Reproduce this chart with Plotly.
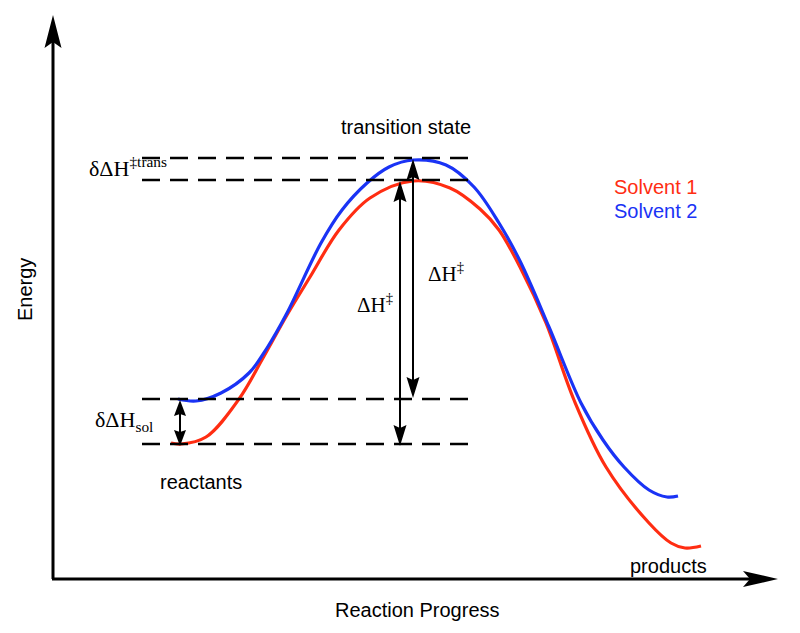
import plotly.graph_objects as go

# ---- data (x = reaction progress, y = energy; arbitrary units) ----
red_x = [171, 181, 206, 239, 263, 287, 310, 339, 370, 413, 450, 480, 499, 520, 546, 574,
         606, 649, 671, 685, 701]
red_E = [190, 189, 196, 234, 275, 318, 356, 403, 435, 452, 445, 424, 403, 366, 310, 233,
         166, 110, 90, 85, 87]

blue_x = [178, 196, 221, 249, 267, 287, 321, 342, 367, 389, 413, 446, 474, 499, 520, 549,
          581, 603, 624, 649, 667, 678]
blue_E = [234, 232, 240, 260, 285, 320, 390, 423, 450, 466, 473, 468, 446, 410, 372, 306,
          230, 193, 166, 143, 136, 137]

# reference energy levels (dashed)
level_E = [475, 453, 234, 189]
level_x = [142, 470]

# double arrows: (x, E_top, E_bottom)
arrows = [(400, 452, 187), (413, 474, 235), (180, 233, 187)]

RED = "#ff2d12"
BLUE = "#1a33f5"
SANS = "Liberation Sans, Arial, Helvetica, sans-serif"
SERIF = "Liberation Serif, Times New Roman, serif"

fig = go.Figure()
fig.add_trace(go.Scatter(x=red_x, y=red_E, mode="lines",
                         line=dict(color=RED, width=3.2, shape="spline", smoothing=1.0),
                         hoverinfo="skip"))
fig.add_trace(go.Scatter(x=blue_x, y=blue_E, mode="lines",
                         line=dict(color=BLUE, width=3.2, shape="spline", smoothing=1.0),
                         hoverinfo="skip"))

shapes = []


def head(tx, ty, dx, dy, L, W, N):
    nx, ny = -dy, dx
    bx, by = tx - L * dx, ty - L * dy
    p1 = (bx + W * nx, by + W * ny)
    p2 = (tx - (L - N) * dx, ty - (L - N) * dy)
    p3 = (bx - W * nx, by - W * ny)
    return dict(type="path", xref="x", yref="y",
                path=f"M{tx},{ty} L{p1[0]},{p1[1]} L{p2[0]},{p2[1]} L{p3[0]},{p3[1]} Z",
                fillcolor="black", line=dict(width=0))


# dashed levels
for e in level_E:
    shapes.append(dict(type="line", xref="x", yref="y", x0=level_x[0], x1=level_x[1], y0=e, y1=e,
                       line=dict(color="black", width=2.3, dash="18px,10px")))

# axes
shapes.append(dict(type="line", xref="x", yref="y", x0=53, x1=53, y0=54, y1=595,
                   line=dict(color="black", width=3)))
shapes.append(head(53, 618, 0, 1, 33, 8.5, 6))
shapes.append(dict(type="line", xref="x", yref="y", x0=52, x1=755, y0=54, y1=54,
                   line=dict(color="black", width=3)))
shapes.append(head(778, 54, 1, 0, 35, 8, 7))

# double arrows
for i, (ax, et, eb) in enumerate(arrows):
    L, W, N = (21, 6.5, 3) if i < 2 else (16, 6, 2)
    shapes.append(dict(type="line", xref="x", yref="y", x0=ax, x1=ax, y0=et - 10, y1=eb + 10,
                       line=dict(color="black", width=2)))
    shapes.append(head(ax, et, 0, 1, L, W, N))
    shapes.append(head(ax, eb, 0, -1, L, W, N))

ann = []


def txt(x, y, t, size=20, family=SANS, color="black", angle=0):
    ann.append(dict(x=x, y=y, xref="x", yref="y", text=t, showarrow=False,
                    font=dict(family=family, size=size, color=color), textangle=angle))


txt(406, 506, "transition state", 20)
txt(201, 151, "reactants", 20)
txt(668, 67, "products", 20)
txt(655, 446, "Solvent 1", 20, color=RED)
txt(655, 422, "Solvent 2", 20, color=BLUE)
txt(25, 343, "Energy", 20, angle=-90)
txt(417, 23, "Reaction Progress", 20)
txt(128, 466, "δΔH<sup>‡trans</sup>", 22, SERIF)
txt(124, 212, "δΔH<sub>sol</sub>", 22, SERIF)
txt(375, 330, "ΔH<sup>‡</sup>", 21, SERIF)
txt(446, 361, "ΔH<sup>‡</sup>", 21, SERIF)

fig.update_layout(
    width=800, height=633,
    margin=dict(l=0, r=0, t=0, b=0, pad=0),
    paper_bgcolor="white", plot_bgcolor="white",
    showlegend=False,
    xaxis=dict(visible=False, range=[0, 800], fixedrange=True),
    yaxis=dict(visible=False, range=[0, 633], fixedrange=True),
    shapes=shapes, annotations=ann,
)

fig.write_html("out.html", config={"displayModeBar": False},
               post_script="document.body.style.margin='0px';document.body.style.overflow='hidden';")
